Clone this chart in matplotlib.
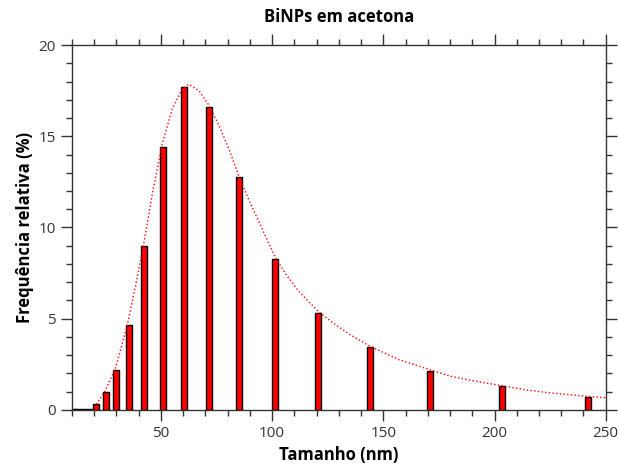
import matplotlib.pyplot as plt
import numpy as np

# bin centres (nm) and relative frequency (%)
sizes = [10.4, 12.4, 14.8, 17.6, 21.0, 25.5, 30.0, 35.7, 42.6, 51.0, 60.5,
         71.8, 85.1, 101.5, 120.7, 143.8, 171.2, 203.3, 242.2]
freq = [0.05, 0.05, 0.05, 0.05, 0.3, 1.0, 2.2, 4.66, 9.0, 14.4, 17.7,
        16.6, 12.75, 8.25, 5.3, 3.45, 2.15, 1.33, 0.71]

# fitted curve
fit_x = [21.0, 25.0, 29.6, 34.8, 38.6, 42.3, 46.1, 50.6, 55.1, 59.6, 62.6,
         67.1, 71.6, 76.1, 80.6, 85.1, 89.6, 95.6, 101.7, 107.0, 112.0,
         120.7, 127.0, 134.7, 143.8, 157.0, 171.0, 180.0, 190.0, 203.0,
         210.0, 215.0, 225.0, 240.0, 250.0]
fit_y = [0.3, 1.05, 2.3, 4.6, 6.8, 9.1, 11.8, 14.6, 16.5, 17.6, 17.85,
         17.5, 16.7, 15.6, 14.3, 12.8, 11.5, 9.9, 8.3, 7.3, 6.5,
         5.4, 4.8, 4.15, 3.5, 2.75, 2.2, 1.85, 1.6, 1.33,
         1.18, 1.08, 0.93, 0.76, 0.66]

plt.rcParams["font.family"] = ["Open Sans", "DejaVu Sans"]

fig = plt.figure(figsize=(6.2, 4.7), dpi=100)
ax = fig.add_axes([0.116, 0.128, 0.861, 0.776])

ax.bar(sizes, freq, width=2.7, color="red", edgecolor="black",
       linewidth=1.0, zorder=2)
ax.plot(fit_x, fit_y, color="red", linestyle=":", linewidth=1.0, zorder=3)

ax.set_xlim(10, 250)
ax.set_ylim(0, 20)
ax.set_xticks(np.arange(50, 251, 50))
ax.set_xticks(np.arange(10, 251, 10), minor=True)
ax.set_yticks(np.arange(0, 21, 5))
ax.set_yticks(np.arange(0, 21, 1), minor=True)

ax.tick_params(which="both", direction="out", top=True, right=True,
               color="#333333", width=1.0, labelsize=11, labelcolor="#333333")
ax.tick_params(which="major", length=8)
ax.tick_params(which="minor", length=4)
for spine in ax.spines.values():
    spine.set_color("#333333")
    spine.set_linewidth(1.0)

ax.set_title("BiNPs em acetona", fontsize=12, fontweight="bold", pad=17)
ax.set_xlabel("Tamanho (nm)", fontsize=12, fontweight="bold", labelpad=4)
ax.set_ylabel("Frequência relativa (%)", fontsize=12, fontweight="bold",
              labelpad=3)

fig.savefig("out.png", dpi=100)
